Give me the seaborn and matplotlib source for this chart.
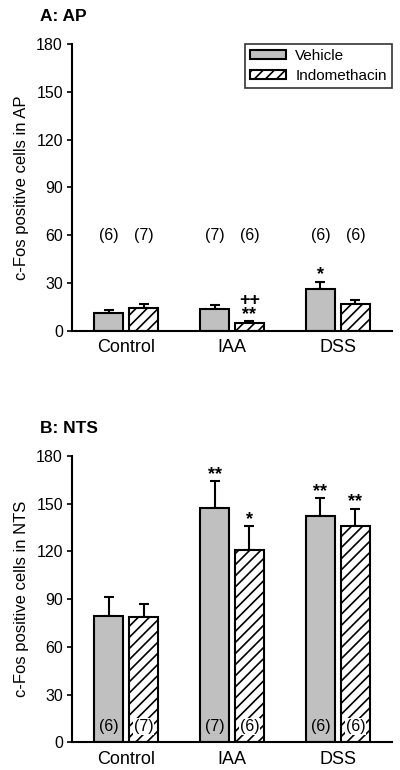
"""
c-Fos positive cells in AP and NTS: vehicle vs indomethacin
"""

import numpy as np
import pandas as pd
import matplotlib
matplotlib.use('Agg')
import matplotlib.pyplot as plt
import seaborn as sns

# Données
groups = ['Control', 'IAA', 'DSS']
treatments = ['Vehicle', 'Indomethacin']

ap_vehicle = [11.5, 14.0, 26.5]
ap_vehicle_se = [1.5, 2.5, 4.3]
ap_indo = [14.5, 5.2, 16.8]
ap_indo_se = [2.3, 1.0, 2.5]

nts_vehicle = [79.5, 147.5, 142.5]
nts_vehicle_se = [12.0, 16.5, 10.8]
nts_indo = [78.8, 121.0, 136.2]
nts_indo_se = [8.0, 14.8, 10.5]

n_vehicle = ['(6)', '(7)', '(6)']
n_indo = ['(7)', '(6)', '(6)']

ap_sig_vehicle = ['', '', '*']
ap_sig_indo = ['', '++\n**', '']
nts_sig_vehicle = ['', '**', '**']
nts_sig_indo = ['', '*', '**']

yticks = [0, 30, 60, 90, 120, 150, 180]

sns.set_style('ticks')
plt.rcParams['font.family'] = ['Liberation Sans', 'DejaVu Sans']
plt.rcParams['hatch.linewidth'] = 1.2
plt.rcParams['hatch.color'] = 'black'
for key in ['text.color', 'axes.labelcolor', 'axes.edgecolor',
            'xtick.color', 'ytick.color']:
    plt.rcParams[key] = 'black'

COLORS = {'Vehicle': '#c0c0c0', 'Indomethacin': 'white'}


def make_frame(veh, indo):
    return pd.DataFrame({
        'group': groups * 2,
        'treatment': ['Vehicle'] * 3 + ['Indomethacin'] * 3,
        'value': list(veh) + list(indo),
    })


def draw_panel(ax, veh, veh_se, indo, indo_se, sig_veh, sig_indo,
               title, ylabel, n_y, legend=False, n_bbox=False):
    df = make_frame(veh, indo)
    sns.barplot(data=df, x='group', y='value', hue='treatment',
                hue_order=treatments, order=groups, palette=COLORS,
                width=0.66, gap=0.18, errorbar=None, edgecolor='black',
                linewidth=1.5, ax=ax, legend=False, zorder=2)

    for bar in ax.containers[1]:
        bar.set_hatch('///')

    for k, (cont, means, se, sig, ns) in enumerate(zip(
            ax.containers[:2], [veh, indo], [veh_se, indo_se],
            [sig_veh, sig_indo], [n_vehicle, n_indo])):
        xs = np.array([b.get_x() + b.get_width() / 2 for b in cont])
        means = np.array(means)
        se = np.array(se)
        ax.errorbar(xs, means, yerr=[np.zeros_like(se), se], fmt='none',
                    ecolor='black', elinewidth=1.5, capsize=3.3,
                    capthick=1.5, zorder=1)
        for x, m, s, lab in zip(xs, means, se, sig):
            if lab:
                ax.text(x, m + s + 1.5, lab, ha='center', va='baseline',
                        fontsize=13, fontweight='bold', linespacing=0.75)
        for x, lab in zip(xs, ns):
            kw = {}
            if n_bbox and k == 1:
                kw['bbox'] = dict(boxstyle='square,pad=0.05',
                                  facecolor='white', edgecolor='none')
            ax.text(x, n_y, lab, ha='center', va='center', fontsize=11.5,
                    zorder=3, **kw)

    ax.set_ylim(0, 180)
    ax.set_xlim(-0.51, 2.51)
    ax.set_yticks(yticks)
    ax.set_xlabel('')
    ax.set_ylabel(ylabel, fontsize=12, labelpad=5)
    ax.tick_params(axis='y', direction='out', length=3.5, width=1.2,
                   labelsize=11.5, pad=3)
    ax.tick_params(axis='x', length=0, labelsize=13, pad=6)
    sns.despine(ax=ax)
    for sp in ['left', 'bottom']:
        ax.spines[sp].set_linewidth(1.5)
    ax.text(-0.10, 1.078, title, transform=ax.transAxes, fontsize=12.5,
            fontweight='bold', ha='left', va='baseline')

    if legend:
        leg = ax.legend(handles=[ax.containers[0][0], ax.containers[1][0]],
                        labels=treatments, loc='upper right',
                        bbox_to_anchor=(1.0, 1.0), borderaxespad=0,
                        fancybox=False, edgecolor='black', fontsize=11,
                        handlelength=2.35, handleheight=0.55,
                        handletextpad=0.6, borderpad=0.35,
                        labelspacing=0.37)
        leg.get_frame().set_linewidth(1.2)


fig = plt.figure(figsize=(4.0, 7.7), dpi=100)
ax1 = fig.add_axes([0.18, 0.570, 0.80, 0.373])
ax2 = fig.add_axes([0.18, 0.036, 0.80, 0.372])

draw_panel(ax1, ap_vehicle, ap_vehicle_se, ap_indo, ap_indo_se,
           ap_sig_vehicle, ap_sig_indo, 'A: AP',
           'c-Fos positive cells in AP', n_y=60, legend=True)
draw_panel(ax2, nts_vehicle, nts_vehicle_se, nts_indo, nts_indo_se,
           nts_sig_vehicle, nts_sig_indo, 'B: NTS',
           'c-Fos positive cells in NTS', n_y=10, n_bbox=True)

fig.savefig('out.png', dpi=100)
plt.close(fig)
